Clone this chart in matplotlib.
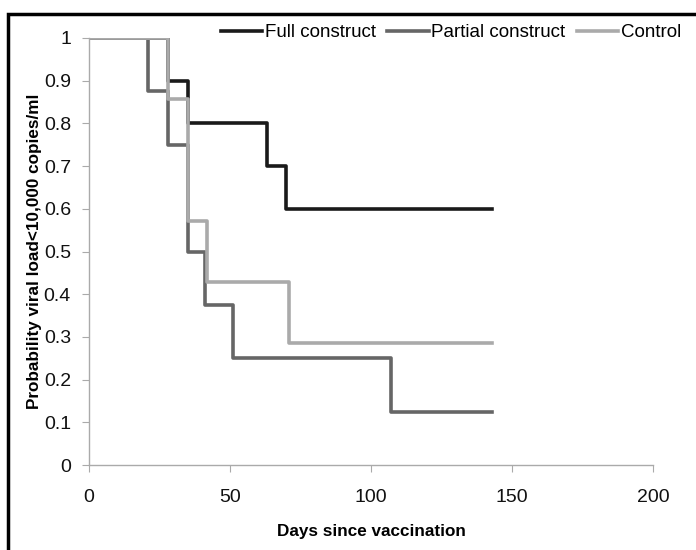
import matplotlib.pyplot as plt
from matplotlib.patches import Rectangle

plt.rcParams['font.family'] = ['Liberation Sans', 'DejaVu Sans']

# step data: time where the value starts, value
full_days = [0, 28, 35, 63, 70, 143]
full_vals = [1, 0.9, 0.8, 0.7, 0.6, 0.6]

partial_days = [0, 21, 28, 35, 41, 51, 107, 143]
partial_vals = [1, 0.875, 0.75, 0.5, 0.375, 0.25, 0.125, 0.125]

control_days = [0, 28, 35, 42, 71, 143]
control_vals = [1, 0.857, 0.571, 0.429, 0.286, 0.286]

fig = plt.figure(figsize=(6.96, 5.5), dpi=100)
ax = fig.add_axes([89 / 696, 1 - 465 / 550, (653 - 89) / 696, (465 - 38) / 550])

ax.step(full_days, full_vals, where='post', color='#1a1a1a', lw=2.6, label='Full construct')
ax.step(partial_days, partial_vals, where='post', color='#666666', lw=2.6, label='Partial construct')
ax.step(control_days, control_vals, where='post', color='#aaaaaa', lw=2.6, label='Control')

ax.set_xlim(0, 200)
ax.set_ylim(0, 1)
ax.set_xticks([0, 50, 100, 150, 200])
ax.set_yticks([0, 0.1, 0.2, 0.3, 0.4, 0.5, 0.6, 0.7, 0.8, 0.9, 1])
ax.set_yticklabels(['0', '0.1', '0.2', '0.3', '0.4', '0.5', '0.6', '0.7', '0.8', '0.9', '1'])

for s in ['top', 'right']:
    ax.spines[s].set_visible(False)
for s in ['left', 'bottom']:
    ax.spines[s].set_color('#aaaaaa')
    ax.spines[s].set_linewidth(1)
ax.tick_params(axis='both', colors='#aaaaaa', labelcolor='#111111', labelsize=14, length=5)
ax.tick_params(axis='x', pad=12)
ax.tick_params(axis='y', pad=8)

ax.set_xlabel('Days since vaccination', fontsize=12.3, fontweight='bold', labelpad=13)
ax.set_ylabel('Probability viral load<10,000 copies/ml', fontsize=12.3, fontweight='bold', labelpad=1)

leg = ax.legend(loc='upper right', bbox_to_anchor=(1.063, 1.05), ncol=3, frameon=False,
                fontsize=13.5, handlelength=2.2, handletextpad=0.15, columnspacing=0.6,
                borderaxespad=0)

# outer frame of the figure
fig.patches.append(Rectangle((8 / 696, -0.1), 1.2, 1 - 14 / 550 + 0.1, transform=fig.transFigure,
                             fill=False, edgecolor='black', lw=2.5, zorder=0))

fig.savefig('out.png', dpi=100)
